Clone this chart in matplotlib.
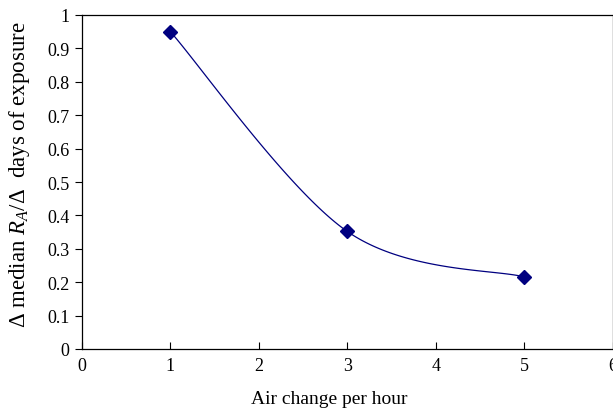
import numpy as np
import matplotlib
matplotlib.use("Agg")
import matplotlib.pyplot as plt

# Data
air_changes = [1, 3, 5]
rate = [0.95, 0.352, 0.216]
x_ticks = [0, 1, 2, 3, 4, 5, 6]
y_ticks = [0, 0.1, 0.2, 0.3, 0.4, 0.5, 0.6, 0.7, 0.8, 0.9, 1]
y_tick_labels = ["0", "0.1", "0.2", "0.3", "0.4", "0.5", "0.6", "0.7", "0.8", "0.9", "1"]

plt.rcParams['font.family'] = ['Liberation Serif', 'DejaVu Serif']
plt.rcParams['mathtext.fontset'] = 'custom'
plt.rcParams['mathtext.rm'] = 'Liberation Serif'
plt.rcParams['mathtext.it'] = 'Liberation Serif:italic'

def excel_smooth(xs, ys, n=60):
    P = np.column_stack([xs, ys]).astype(float)
    out = []
    m = len(P)
    for i in range(m - 1):
        p0 = P[i - 1] if i > 0 else P[i]
        p1 = P[i]
        p2 = P[i + 1]
        p3 = P[i + 2] if i + 2 < m else P[i + 1]
        c1 = p1 + (p2 - p0) / 6.0
        c2 = p2 - (p3 - p1) / 6.0
        t = np.linspace(0, 1, n)[:, None]
        seg = ((1 - t) ** 3) * p1 + 3 * ((1 - t) ** 2) * t * c1 + 3 * (1 - t) * t ** 2 * c2 + t ** 3 * p2
        out.append(seg if i == 0 else seg[1:])
    pts = np.vstack(out)
    return pts[:, 0], pts[:, 1]

fig = plt.figure(figsize=(6.13, 4.10), dpi=100)
ax = fig.add_axes([82 / 613, 60 / 410, 530.5 / 613, 334 / 410])

sx, sy = excel_smooth(air_changes, rate)
ax.plot(sx, sy, color='#000080', lw=0.9, clip_on=False)
ax.plot(air_changes, rate, linestyle='none', marker='D', markersize=6.8,
        color='#000080', clip_on=False)

ax.set_xlim(0, 6)
ax.set_ylim(0, 1)
ax.set_xticks(x_ticks)
ax.set_xticklabels([str(v) for v in x_ticks])
ax.set_yticks(y_ticks)
ax.set_yticklabels(y_tick_labels)

ax.tick_params(axis='x', direction='in', length=5, width=0.8, labelsize=13, pad=6)
ax.tick_params(axis='y', direction='out', length=5, width=0.8, labelsize=13, pad=4)
for s in ax.spines.values():
    s.set_linewidth(0.9)
    s.set_color('black')

fig.text(329 / 613, 1 - 404 / 410, 'Air change per hour', fontsize=14,
         ha='center', va='baseline')
fig.text(20 / 613, 1 - 175 / 410, r'Δ median $\it{R}_{\it{A}}$/Δ  days of exposure',
         fontsize=16.5, rotation=90, ha='center', va='center')

fig.savefig('out.png', dpi=100)
